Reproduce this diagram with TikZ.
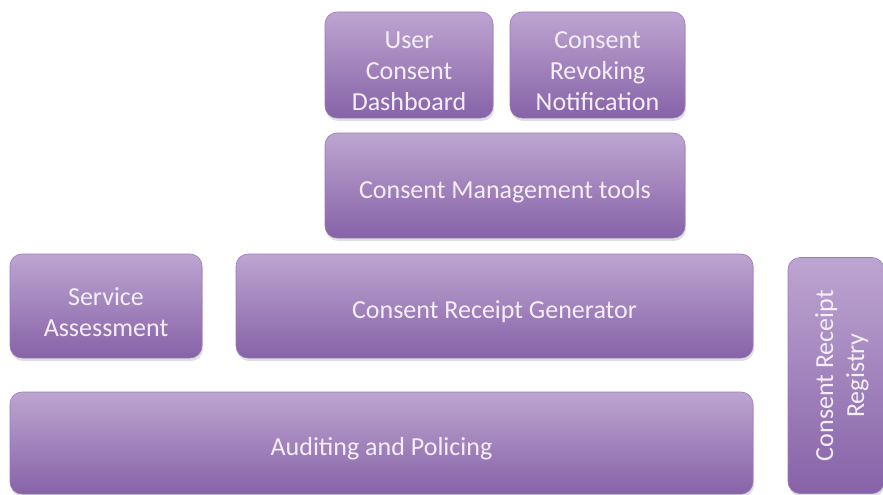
\documentclass[tikz,border=0pt]{standalone}
\usepackage{fontspec}
\setmainfont{Carlito}
\usetikzlibrary{shadows}
\definecolor{toppurple}{HTML}{BDA5D1}
\definecolor{botpurple}{HTML}{8762A8}
\definecolor{edgepurple}{HTML}{9A7BB8}
\definecolor{txtcol}{HTML}{F4EEF8}
\tikzset{
  box/.style={rectangle, rounded corners=12pt, top color=toppurple, bottom color=botpurple,
    draw=edgepurple, line width=0.6pt, inner sep=0pt,
    drop shadow={opacity=0.25, shadow xshift=1pt, shadow yshift=-3pt}},
  txt/.style={text=txtcol, align=center, inner sep=0pt, font=\fontsize{26}{31}\selectfont, yshift=-6pt},
}
\begin{document}
\begin{tikzpicture}[x=1pt,y=-1pt]
\useasboundingbox (0,0) rectangle (883,495);
\node[box, minimum width=168pt, minimum height=106pt,
  label={[txt]center:{User\\Consent\\Dashboard}}] (ucd) at (409,65) {};
\node[box, minimum width=175pt, minimum height=106pt,
  label={[txt]center:{Consent\\Revoking\\Notification}}] (crn) at (597.5,65) {};
\node[box, minimum width=360pt, minimum height=105pt,
  label={[txt]center:{Consent Management tools}}] (cmt) at (505,185.5) {};
\node[box, minimum width=192pt, minimum height=104pt,
  label={[txt]center:{Service\\Assessment}}] (sa) at (106,306) {};
\node[box, minimum width=517pt, minimum height=104pt,
  label={[txt]center:{Consent Receipt Generator}}] (crg) at (494.5,306) {};
\node[box, minimum width=743pt, minimum height=102pt,
  label={[txt]center:{Auditing and Policing}}] (ap) at (381.5,443) {};
\node[box, rotate=90, minimum width=236pt, minimum height=96pt,
  label={[txt, yshift=6pt, xshift=6pt, rotate=90]center:{Consent Receipt\\Registry}}] (crr) at (836,375.5) {};
\end{tikzpicture}
\end{document}
